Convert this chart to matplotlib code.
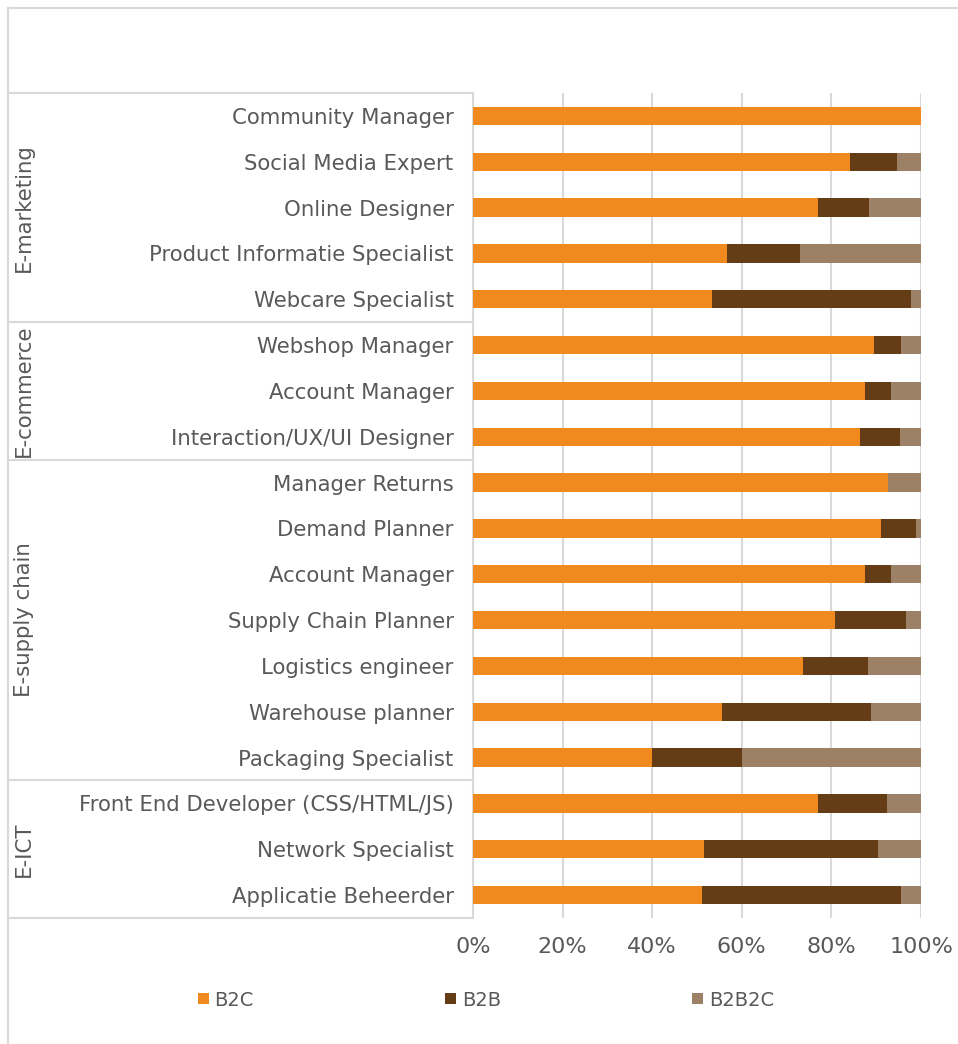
import numpy as np
import matplotlib
matplotlib.use("Agg")
import matplotlib.pyplot as plt
from matplotlib.lines import Line2D
from matplotlib.transforms import blended_transform_factory

jobs = ["Community Manager", "Social Media Expert", "Online Designer",
        "Product Informatie Specialist", "Webcare Specialist",
        "Webshop Manager", "Account Manager", "Interaction/UX/UI Designer",
        "Manager Returns", "Demand Planner", "Account Manager",
        "Supply Chain Planner", "Logistics engineer", "Warehouse planner",
        "Packaging Specialist",
        "Front End Developer (CSS/HTML/JS)", "Network Specialist",
        "Applicatie Beheerder"]
groups = ["E-marketing", "E-commerce", "E-supply chain", "E-ICT"]
group_sizes = [5, 3, 7, 3]

b2c = [100, 84.2, 76.9, 56.8, 53.3,
       89.4, 87.6, 86.4,
       92.6, 91.0, 87.6, 80.7, 73.6, 55.6, 40.0,
       76.9, 51.6, 51.1]
b2b = [0, 10.5, 11.5, 16.3, 44.4,
       6.2, 5.8, 9.0,
       0, 7.8, 5.8, 16.0, 14.6, 33.3, 20.0,
       15.4, 38.7, 44.4]
b2b2c = [0, 5.3, 11.6, 26.9, 2.3,
         4.4, 6.6, 4.6,
         7.4, 1.2, 6.6, 3.3, 11.8, 11.1, 40.0,
         7.7, 9.7, 4.5]

colors = ["#F0891E", "#643C16", "#9C8167"]
grid_c = "#D9D9D9"
text_c = "#595959"
W, H = 958, 1044

fig = plt.figure(figsize=(W / 100, H / 100), dpi=100)
ax = fig.add_axes([473 / W, 1 - 918 / H, 448 / W, 825 / H])

y = np.arange(len(jobs))
left = np.zeros(len(jobs))
for vals, c, lab in zip([b2c, b2b, b2b2c], colors, ["B2C", "B2B", "B2B2C"]):
    vals = np.array(vals)
    ax.barh(y, vals, left=left, height=0.4, color=c, label=lab, zorder=3)
    left += vals

ax.set_xlim(0, 100)
ax.set_ylim(len(jobs) - 0.5, -0.5)
ax.set_xticks(np.arange(0, 101, 20))
ax.set_xticklabels([f"{v}%" for v in range(0, 101, 20)])
ax.set_yticks(y)
ax.set_yticklabels(jobs)
ax.tick_params(axis="both", length=0, colors=text_c)
ax.tick_params(axis="x", pad=14, labelsize=16)
ax.tick_params(axis="y", pad=14, labelsize=15.3)
ax.grid(axis="x", color=grid_c, linewidth=1.5, zorder=0)
for s in ["top", "right", "bottom"]:
    ax.spines[s].set_visible(False)
ax.spines["left"].set_color(grid_c)
ax.spines["left"].set_linewidth(1.5)

# group separators and group labels
tr = blended_transform_factory(fig.transFigure, ax.transData)
bounds = np.concatenate([[0], np.cumsum(group_sizes)]) - 0.5
for b in bounds:
    fig.add_artist(Line2D([8 / W, 473 / W], [b, b], transform=tr,
                          color=grid_c, linewidth=1.5))
for g, lo, hi in zip(groups, bounds[:-1], bounds[1:]):
    fig.text(24 / W, (lo + hi) / 2, g, transform=tr, rotation=90,
             ha="center", va="center", fontsize=15.3, color=text_c)

# chart area border
fig.add_artist(Line2D([8 / W, 8 / W], [0, 1 - 8 / H], transform=fig.transFigure,
                      color=grid_c, linewidth=1.5))
fig.add_artist(Line2D([8 / W, 1], [1 - 8 / H, 1 - 8 / H], transform=fig.transFigure,
                      color=grid_c, linewidth=1.5))

fig.legend(loc="center", bbox_to_anchor=(486 / W, 1 - 1000 / H), ncol=3,
           frameon=False, fontsize=14, labelcolor=text_c,
           handlelength=0.55, handleheight=0.55, handletextpad=0.3,
           columnspacing=9.85)

fig.savefig("out.png", dpi=100)
